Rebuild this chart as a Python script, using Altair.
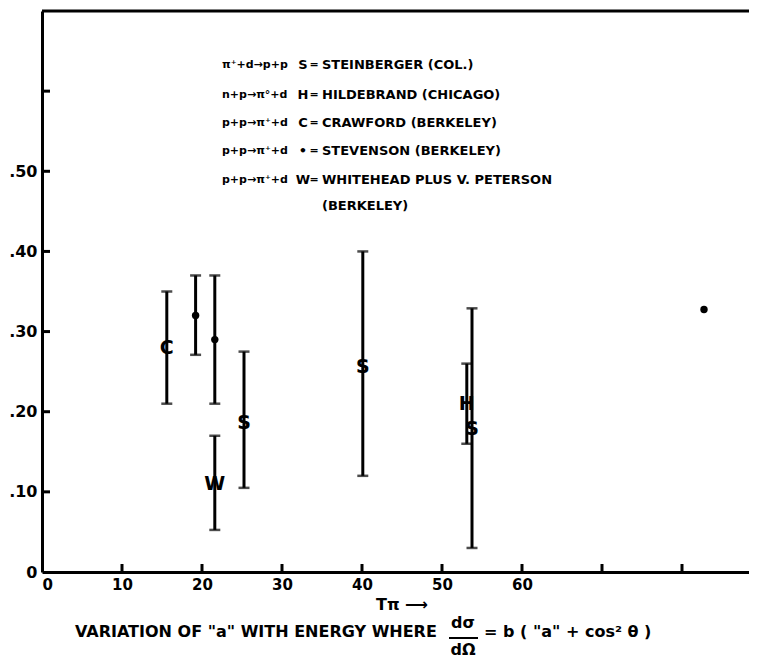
import altair as alt
import pandas as pd

# ---- data ----
t_pi   = [15.6, 19.2, 21.6, 21.6, 25.25, 40.1, 53.1, 53.75, 82.75]
a_val  = [0.279, 0.32, 0.29, 0.11, 0.186, 0.256, 0.21, 0.179, 0.3275]
a_lo   = [0.21, 0.271, 0.21, 0.0525, 0.105, 0.12, 0.16, 0.03, None]
a_hi   = [0.35, 0.37, 0.37, 0.17, 0.275, 0.40, 0.26, 0.329, None]
marker = ["C", "•", "•", "W", "S", "S", "H", "S", "•"]

x_tick_labels = [0, 10, 20, 30, 40, 50, 60]
x_ticks = [10, 20, 30, 40, 50, 60, 70, 80]
y_tick_labels = [0, 0.1, 0.2, 0.3, 0.4, 0.5]
y_ticks = [0.1, 0.2, 0.3, 0.4, 0.5, 0.6]

legend_reaction = ["π⁺+d→p+p", "n+p→π°+d", "p+p→π⁺+d",
                   "p+p→π⁺+d", "p+p→π⁺+d", ""]
legend_symbol = ["S", "H", "C", "•", "W", ""]
legend_eq = ["=", "=", "=", "=", "=", ""]
legend_name = ["STEINBERGER (COL.)", "HILDEBRAND (CHICAGO)", "CRAWFORD (BERKELEY)",
               "STEVENSON (BERKELEY)", "WHITEHEAD PLUS V. PETERSON", "(BERKELEY)"]

W, H = 707, 561
FONT = "DejaVu Sans"

df = pd.DataFrame({"t": t_pi, "a": a_val, "lo": a_lo, "hi": a_hi, "m": marker})
bars = df.dropna(subset=["lo"])
letters = df[df["m"] != "•"]
dots = df[df["m"] == "•"]

xs = alt.Scale(domain=[0, W / 8.0], nice=False, zero=False)
ys = alt.Scale(domain=[0, 0.70], nice=False, zero=False)

x_axis = alt.Axis(values=x_tick_labels, ticks=False, grid=False, title=None,
                  domainColor="black", domainWidth=3, labelFont=FONT,
                  labelFontSize=15, labelFontWeight="bold", labelColor="black",
                  labelPadding=5)
y_axis = alt.Axis(values=y_tick_labels, ticks=False, grid=False, title=None,
                  domainColor="black", domainWidth=3, labelFont=FONT,
                  labelFontSize=16, labelFontWeight="bold", labelColor="black",
                  labelPadding=5,
                  labelExpr="datum.value == 0 ? '0' : replace(format(datum.value, '.2f'), '0.', '.')")

base = alt.Chart(bars)

err = base.mark_rule(color="black", strokeWidth=3).encode(
    x=alt.X("t:Q", scale=xs, axis=x_axis),
    y=alt.Y("lo:Q", scale=ys, axis=y_axis),
    y2="hi:Q",
)
cap_lo = base.mark_tick(color="black", orient="horizontal", size=11, thickness=2.5).encode(
    x=alt.X("t:Q", scale=xs), y=alt.Y("lo:Q", scale=ys))
cap_hi = base.mark_tick(color="black", orient="horizontal", size=11, thickness=2.5).encode(
    x=alt.X("t:Q", scale=xs), y=alt.Y("hi:Q", scale=ys))

let = alt.Chart(letters).mark_text(font=FONT, fontSize=19, fontWeight="bold",
                                   color="black", baseline="middle").encode(
    x=alt.X("t:Q", scale=xs), y=alt.Y("a:Q", scale=ys), text="m:N")
dot = alt.Chart(dots).mark_circle(color="black", size=55, opacity=1).encode(
    x=alt.X("t:Q", scale=xs), y=alt.Y("a:Q", scale=ys))

# inward ticks
xt = alt.Chart(pd.DataFrame({"v": x_ticks})).mark_rule(color="black", strokeWidth=3).encode(
    x=alt.X("v:Q", scale=xs), y=alt.value(H), y2=alt.value(H - 8))
yt = alt.Chart(pd.DataFrame({"v": y_ticks})).mark_rule(color="black", strokeWidth=3).encode(
    y=alt.Y("v:Q", scale=ys), x=alt.value(0), x2=alt.value(8))
top = alt.Chart(pd.DataFrame({"v": [0]})).mark_rule(color="black", strokeWidth=3).encode(
    x=alt.value(0), x2=alt.value(W), y=alt.value(0))

# legend block
leg_y = [54, 84, 112, 140, 169, 195]
leg = pd.DataFrame({"r": legend_reaction, "s": legend_symbol, "e": legend_eq,
                    "n": legend_name, "yy": leg_y})
tstyle = dict(font=FONT, fontWeight="bold", color="black", baseline="middle")
leg_r = alt.Chart(leg).mark_text(**tstyle, fontSize=11, align="left", x=180).encode(
    y=alt.Y("yy:Q", scale=None), text="r:N")
leg_s = alt.Chart(leg).mark_text(**tstyle, fontSize=13, align="center", x=261).encode(
    y=alt.Y("yy:Q", scale=None), text="s:N")
leg_e = alt.Chart(leg).mark_text(**tstyle, fontSize=11, align="center", x=272).encode(
    y=alt.Y("yy:Q", scale=None), text="e:N")
leg_n = alt.Chart(leg).mark_text(**tstyle, fontSize=13, align="left", x=280).encode(
    y=alt.Y("yy:Q", scale=None), text="n:N")

# axis title and caption
one = pd.DataFrame({"v": [0]})
big = dict(font=FONT, fontSize=16, fontWeight="bold", color="black", baseline="middle")
xtitle = alt.Chart(one).mark_text(**big, align="center", text="Tπ ⟶").encode(
    x=alt.value(360), y=alt.value(594))
cap1 = alt.Chart(one).mark_text(**big, align="left",
                                text='VARIATION  OF  "a"  WITH  ENERGY  WHERE').encode(
    x=alt.value(33), y=alt.value(621))
cap_num = alt.Chart(one).mark_text(**big, align="center", text="dσ").encode(
    x=alt.value(421), y=alt.value(612))
cap_bar = alt.Chart(one).mark_rule(color="black", strokeWidth=2).encode(
    x=alt.value(407), x2=alt.value(436), y=alt.value(627))
cap_den = alt.Chart(one).mark_text(**big, align="center", text="dΩ").encode(
    x=alt.value(421), y=alt.value(639))
cap2 = alt.Chart(one).mark_text(**big, align="left", text='=  b  ( "a"  +  cos² θ )').encode(
    x=alt.value(442), y=alt.value(621))

chart = alt.layer(
    err, cap_lo, cap_hi, let, dot, xt, yt, top,
    leg_r, leg_s, leg_e, leg_n, xtitle, cap1, cap_num, cap_bar, cap_den, cap2,
).properties(
    width=W, height=H,
    autosize=alt.AutoSizeParams(type="none"),
    padding={"left": 34, "top": 3, "right": 0, "bottom": 88},
).configure_view(stroke=None).configure(background="white")

chart.save("out.html", embed_options={"renderer": "svg", "actions": False})
